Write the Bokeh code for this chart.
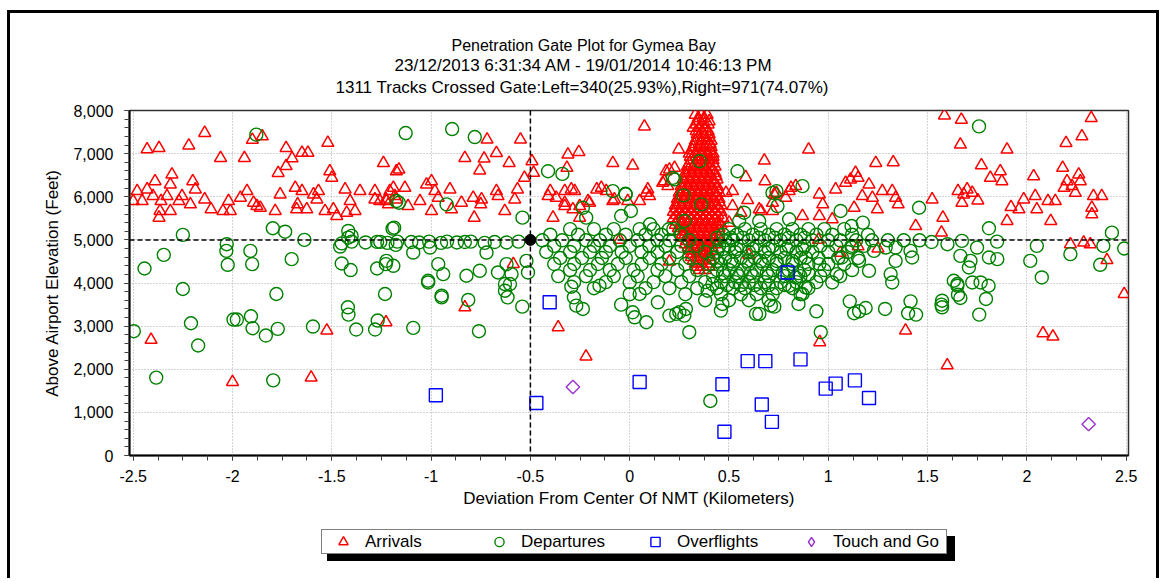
import math
from bokeh.plotting import figure
from bokeh.layouts import column
from bokeh.models import (Range1d, FixedTicker, Span, Title, Legend, LegendItem,
                          CustomJSTickFormatter, NumeralTickFormatter)
from bokeh.embed import file_html
from bokeh.resources import INLINE

# ---------------- text ----------------
title_lines = [
    "Penetration Gate Plot for Gymea Bay",
    "23/12/2013 6:31:34 AM - 19/01/2014 10:46:13 PM",
    "1311 Tracks Crossed Gate:Left=340(25.93%),Right=971(74.07%)",
]
x_axis_title = "Deviation From Center Of NMT (Kilometers)"
y_axis_title = "Above Airport Elevation (Feet)"
series_names = ["Arrivals", "Departures", "Overflights", "Touch and Go"]
x_tick_values = [-2.5, -2, -1.5, -1, -0.5, 0, 0.5, 1, 1.5, 2, 2.5]
y_tick_values = [0, 1000, 2000, 3000, 4000, 5000, 6000, 7000, 8000]
gate_x = -0.5
gate_y = 5000

# ---------------- data (km, feet) ----------------
arrivals_scatter = [
    (-2.43, 7100), (-2.37, 7130), (-2.14, 7480), (-2.22, 7190), (-2.06, 6900), (-1.94, 6900),
    (-1.90, 7320), (-1.85, 7400), (-1.73, 7130), (-1.77, 6550), (-1.73, 6710), (-1.70, 6890),
    (-1.65, 7020), (-1.62, 7020), (-1.52, 7250), (-1.51, 6590), (-1.50, 6440), (-1.24, 6780),
    (-1.175, 6590),
    (-2.50, 5900), (-2.455, 5900), (-2.48, 6130), (-2.43, 6170), (-2.39, 6360), (-2.40, 6015),
    (-2.36, 5900), (-2.365, 5670), (-2.37, 5515), (-2.33, 6015), (-2.305, 6516), (-2.313, 6285),
    (-2.313, 5670), (-2.27, 5900), (-2.254, 6015), (-2.20, 6360), (-2.187, 6170), (-2.212, 5823),
    (-2.14, 5938), (-2.108, 5708), (-2.048, 5670), (-2.02, 5900), (-2.011, 5670), (-1.96, 5976),
    (-1.927, 6130), (-1.894, 5861), (-1.877, 5784), (-1.86, 5745), (-1.785, 5670), (-1.76, 6054),
    (-1.684, 6207), (-1.65, 6130), (-1.672, 5823), (-1.677, 5708), (-1.626, 5708), (-1.592, 6054),
    (-1.567, 6130), (-1.575, 5938), (-1.534, 5670), (-1.492, 5708), (-1.475, 5553), (-1.425, 5630),
    (-1.433, 6170), (-1.408, 5900), (-1.383, 5670), (-1.358, 6130), (-1.283, 6130), (-1.283, 5938),
    (-1.258, 5900), (-1.225, 5900), (-1.208, 6130), (-1.183, 6015), (-1.215, 5823),
    (-2.41, 2683), (-2.0, 1704), (-1.604, 1806), (-1.525, 2898), (-1.227, 3090), (-0.83, 3436),
    (-0.36, 2974), (-0.22, 2297),
    (-0.718, 7324), (-0.55, 7324), (-0.83, 6900), (-0.733, 6885), (-0.671, 7015), (-0.607, 6784),
    (-0.755, 6608), (-0.492, 6823), (-0.484, 6553), (-0.53, 6438), (-1.162, 6631), (-1.227, 5938),
    (-1.19, 6207), (-1.132, 6207), (-1.175, 5938), (-1.116, 5784), (-1.056, 5900), (-1.023, 6285),
    (-0.998, 6360), (-0.981, 6130), (-0.998, 5670), (-0.964, 5976), (-0.905, 6170), (-0.897, 5708),
    (-0.847, 5861), (-0.788, 5976), (-0.783, 5515), (-0.75, 5823), (-0.746, 5938), (-0.671, 6130),
    (-0.663, 6015), (-0.629, 5670), (-0.579, 5938), (-0.565, 6170), (-0.586, 4440),
    (-0.311, 6978), (-0.256, 7038), (-0.316, 6669), (-0.4, 6130), (-0.411, 6015), (-0.37, 5976),
    (-0.327, 6130), (-0.294, 6170), (-0.277, 6130), (-0.327, 5784), (-0.286, 5708), (-0.252, 5515),
    (-0.21, 5900), (-0.386, 5515), (-0.166, 6170), (-0.143, 6207), (-0.118, 6130), (-0.085, 6784),
    (-0.085, 5900), (0.015, 6723), (0.074, 7630), (-0.01, 5900), (0.05, 5900), (0.083, 6091),
    (0.1, 6015), (-0.327, 5861), (-0.252, 5784), (-0.202, 5861), (-0.077, 5938), (0.091, 6170),
    (0.183, 6592), (0.226, 6669), (0.166, 6322), (0.192, 6246), (0.247, 7094), (0.2, 6631),
    (0.175, 6360),
    (0.678, 6839), (0.584, 6454), (0.681, 6360), (0.518, 6130), (0.594, 5923), (0.662, 5670),
    (0.485, 6091), (0.518, 5784), (0.56, 5630), (0.652, 5708), (0.5, 5399), (0.739, 6091),
    (0.719, 5861), (0.803, 6130), (0.836, 6246),
    (0.901, 7094), (1.239, 6784), (1.327, 6800), (1.585, 7885), (1.67, 7786), (1.665, 7209),
    (1.9, 7094), (1.771, 6731), (1.816, 6438), (1.866, 6592), (1.874, 6360), (2.324, 7823),
    (2.277, 7400), (2.197, 7246), (2.18, 6669), (2.261, 6516), (2.202, 6360), (2.227, 6246),
    (2.269, 6360), (2.187, 6207), (2.244, 6091), (2.335, 6015), (2.377, 6015), (2.327, 5745),
    (2.327, 5592), (2.034, 6477), (2.042, 6015), (2.106, 5900), (2.143, 5900), (2.05, 5708),
    (2.12, 5438), (1.984, 5938), (1.92, 5761), (1.96, 5708), (1.9, 5438), (2.219, 4900),
    (2.286, 4938), (2.319, 4900), (2.403, 4530), (1.523, 5938), (1.577, 5515), (1.57, 5168),
    (1.44, 5322), (1.653, 6130), (1.682, 6054), (1.699, 6170), (1.725, 6091), (1.673, 5861),
    (1.753, 5915), (1.037, 6170), (1.087, 6322), (1.137, 6553), (1.15, 6438), (1.112, 6400),
    (1.205, 6285), (1.272, 6130), (1.322, 6130), (1.339, 5976), (1.352, 5823), (1.222, 5976),
    (1.171, 6015), (1.247, 5708), (1.13, 5745), (0.955, 6054), (0.972, 5823), (1.02, 5476),
    (0.955, 5553), (0.87, 5553), (0.812, 6207), (0.786, 5976), (0.728, 6054), (0.719, 5670),
    (0.957, 2628), (1.389, 2898), (1.599, 2090), (2.081, 2836), (2.131, 2759), (2.49, 3745),
    (1.15, 4850), (1.25, 4800), (1.06, 4700), (0.95, 5000), (-0.05, 5000), (0.6, 4650), (0.2, 4500),
]

# dense arrival core near +0.35 km: (elevation, [deviations])
arrivals_core = [
    (7900, [0.33, 0.36, 0.39]),
    (7825, [0.345, 0.375]),
    (7750, [0.34, 0.37, 0.40]),
    (7675, [0.335, 0.365, 0.395]),
    (7600, [0.32, 0.35, 0.38]),
    (7525, [0.335, 0.365, 0.395]),
    (7450, [0.34, 0.37, 0.40]),
    (7375, [0.345, 0.375, 0.40]),
    (7300, [0.33, 0.36, 0.39, 0.41]),
    (7225, [0.325, 0.355, 0.385, 0.405]),
    (7150, [0.32, 0.35, 0.38, 0.41]),
    (7075, [0.315, 0.345, 0.375, 0.405]),
    (7000, [0.30, 0.33, 0.36, 0.39, 0.42]),
    (6925, [0.305, 0.335, 0.365, 0.395, 0.42]),
    (6850, [0.31, 0.34, 0.37, 0.40, 0.42]),
    (6775, [0.30, 0.33, 0.36, 0.39, 0.42]),
    (6700, [0.29, 0.32, 0.35, 0.38, 0.41, 0.43]),
    (6625, [0.295, 0.325, 0.355, 0.385, 0.415]),
    (6550, [0.28, 0.31, 0.34, 0.37, 0.40, 0.43]),
    (6475, [0.285, 0.315, 0.345, 0.375, 0.405, 0.435]),
    (6400, [0.27, 0.30, 0.33, 0.36, 0.39, 0.42, 0.44]),
    (6325, [0.275, 0.305, 0.335, 0.365, 0.395, 0.425]),
    (6250, [0.26, 0.29, 0.32, 0.35, 0.38, 0.41, 0.44]),
    (6175, [0.265, 0.295, 0.325, 0.355, 0.385, 0.415, 0.44]),
    (6100, [0.25, 0.28, 0.31, 0.34, 0.37, 0.40, 0.43, 0.45]),
    (6025, [0.255, 0.285, 0.315, 0.345, 0.375, 0.405, 0.435]),
    (5950, [0.24, 0.27, 0.30, 0.33, 0.36, 0.39, 0.42, 0.45]),
    (5875, [0.245, 0.275, 0.305, 0.335, 0.365, 0.395, 0.425, 0.45]),
    (5800, [0.23, 0.26, 0.29, 0.32, 0.35, 0.38, 0.41, 0.44, 0.46]),
    (5725, [0.235, 0.265, 0.295, 0.325, 0.355, 0.385, 0.415, 0.445]),
    (5650, [0.22, 0.25, 0.28, 0.31, 0.34, 0.37, 0.40, 0.43, 0.46]),
    (5575, [0.235, 0.265, 0.295, 0.325, 0.355, 0.385, 0.415, 0.445]),
    (5500, [0.22, 0.25, 0.28, 0.31, 0.34, 0.37, 0.40, 0.43, 0.47]),
    (5425, [0.235, 0.265, 0.295, 0.325, 0.355, 0.385, 0.415, 0.445]),
    (5350, [0.23, 0.26, 0.29, 0.32, 0.35, 0.38, 0.41, 0.44, 0.46]),
    (5275, [0.245, 0.275, 0.305, 0.335, 0.365, 0.395, 0.425, 0.45]),
    (5200, [0.25, 0.28, 0.31, 0.34, 0.37, 0.40, 0.43, 0.45]),
    (5125, [0.265, 0.295, 0.325, 0.355, 0.385, 0.415, 0.44]),
    (5050, [0.27, 0.30, 0.33, 0.36, 0.39, 0.42, 0.45]),
    (4975, [0.285, 0.315, 0.345, 0.375, 0.405, 0.435]),
    (4900, [0.28, 0.31, 0.34, 0.37, 0.40, 0.43]),
    (4825, [0.295, 0.325, 0.355, 0.385, 0.415]),
    (4750, [0.30, 0.33, 0.36, 0.39, 0.42]),
    (4675, [0.31, 0.34, 0.37, 0.40]),
    (4600, [0.31, 0.34, 0.37, 0.40]),
    (4525, [0.32, 0.35, 0.38, 0.41]),
    (4450, [0.33, 0.36, 0.39]),
    (4375, [0.34, 0.37, 0.40]),
    (4300, [0.35, 0.38]),
]

departures_scatter = [
    (-2.443, 4336), (-2.346, 4653), (-2.25, 5115), (-2.029, 4900), (-2.031, 4745), (-2.024, 4422),
    (-1.91, 4745), (-1.901, 4438), (-1.797, 5270), (-1.735, 5190), (-1.702, 4553), (-1.638, 5000),
    (-1.458, 4845), (-1.417, 5207), (-1.417, 5052), (-1.40, 5092), (-1.45, 4452), (-1.405, 4300),
    (-1.272, 4953), (-1.256, 4953), (-1.272, 4336), (-1.228, 4438), (-1.178, 4884), (-1.186, 5284),
    (-1.175, 5900), (-2.25, 3861), (-1.779, 3745), (-1.232, 3745), (-1.88, 7440),
    (-2.497, 2882), (-2.209, 3067), (-2.173, 2551), (-2.384, 1806), (-1.995, 3152), (-1.978, 3152),
    (-1.907, 3228), (-1.899, 2951), (-1.832, 2782), (-1.772, 2937), (-1.795, 1743), (-1.595, 2990),
    (-1.419, 3436), (-1.416, 3267), (-1.377, 2921), (-1.282, 2921), (-1.269, 3129), (-1.09, 2960),
    (-0.947, 3667), (-0.813, 3607), (-0.759, 2882), (-1.015, 4013), (-0.628, 3821), (-0.615, 3667),
    (-0.541, 3452), (-0.603, 3976),
    (-1.128, 7477), (-0.894, 7570), (-0.78, 7384), (-1.162, 5861), (-0.922, 5823), (-0.54, 5515),
    (-1.194, 5260), (-0.411, 6592), (-0.339, 6530), (-0.236, 5745), (-0.219, 5515), (-0.085, 6130),
    (-0.021, 6068), (-0.043, 5553), (0.006, 5670), (0.102, 5361), (0.197, 5246), (0.217, 6438),
    (0.543, 6592), (0.352, 6823), (0.271, 6031), (0.36, 5823), (0.275, 5438), (0.226, 6400),
    (-0.02, 6054), (0.719, 6091), (0.744, 5784), (0.803, 5477), (0.576, 5630), (0.652, 5438),
    (0.551, 5438), (0.87, 6246), (0.739, 6130), (1.457, 5745), (1.062, 5670), (1.117, 5322),
    (1.174, 5399), (1.759, 7631), (1.809, 5269), (2.428, 5168), (2.385, 4861), (2.219, 4669),
    (2.369, 4422), (2.05, 4861), (2.017, 4514), (2.075, 4129), (1.673, 4977), (1.665, 4630),
    (1.749, 4822), (1.809, 4591), (1.851, 4553), (1.716, 4514), (1.708, 4360), (1.632, 4052),
    (1.65, 3937), (1.767, 4013), (1.807, 3937), (1.414, 4745), (1.339, 4822), (1.289, 4822),
    (1.23, 4745), (1.155, 4514), (1.205, 4283), (1.314, 4206), (1.322, 4013), (1.118, 4822),
    (1.068, 4591), (1.043, 4206), (1.02, 4013), (0.955, 4438), (0.886, 4591), (0.903, 4206),
    (0.886, 3899), (0.836, 4129), (0.803, 3937), (0.87, 3745), (1.339, 4514), (1.422, 4591),
    (1.573, 3590), (2.49, 4800), (1.52, 4950), (1.6, 4900), (1.85, 4960),
    (-1.45, 4920), (-1.40, 4960), (-1.33, 4940), (-1.22, 4930), (-1.17, 4960), (-1.10, 4950),
    (-1.06, 4940), (-1.01, 4960), (-0.95, 4930), (-0.92, 4960), (-0.87, 4940), (-0.83, 4950),
    (-0.80, 4960), (-0.73, 4930), (-0.68, 4950), (-0.62, 4940), (-0.56, 4960),
    (-1.225, 4514), (-1.19, 4399), (-1.09, 4706), (-1.005, 4822), (-0.964, 4438), (-0.939, 4206),
    (-1.015, 4052), (-0.947, 3706), (-0.822, 4168), (-0.755, 4283), (-0.721, 4706), (-0.663, 4245),
    (-0.628, 3976), (-0.62, 4438), (-0.595, 4206), (-0.52, 4514), (-0.512, 4245),
    (-0.281, 3667), (-0.269, 3475), (-0.294, 3914), (-0.236, 3398), (-0.152, 3937), (-0.043, 3498),
    (0.015, 3321), (0.05, 3745), (0.025, 3205), (0.084, 3090), (0.142, 3552), (0.2, 3244),
    (0.234, 3283), (0.25, 3321), (0.275, 3244), (0.3, 2859), (0.283, 3398), (0.392, 3821),
    (0.467, 3514), (0.459, 3360), (0.636, 3283), (0.711, 3475), (0.417, 3976), (0.406, 1265),
    (0.962, 2859), (0.728, 3452), (0.85, 3514), (0.94, 3344), (1.108, 3575), (1.13, 3298),
    (1.155, 3344), (1.188, 3421), (1.286, 3398), (1.414, 3575), (1.402, 3298), (1.442, 3267),
    (1.57, 3498), (1.573, 3436), (1.653, 3729), (1.665, 3652), (1.76, 3267), (1.794, 3630),
    (1.65, 3976), (1.725, 4013), (0.653, 3283),
]

# dense departure mass: (elevation, [deviations])
departures_core = [
    (5250, [-0.30, -0.18, -0.08, 0.05, 0.12, 0.22, 0.50, 0.58, 0.66, 0.74, 0.82, 0.90, 0.98, 1.08]),
    (5120, [-0.40, -0.26, -0.12, -0.02, 0.08, 0.16, 0.26, 0.47, 0.54, 0.62, 0.70, 0.78, 0.86, 0.94,
            1.02, 1.12, 1.20]),
    (5050, [0.44, 0.51, 0.57, 0.65, 0.73, 0.80, 0.88]),
    (4990, [-0.44, -0.34, -0.22, -0.15, -0.05, 0.04, 0.14, 0.20, 0.30, 0.48, 0.52, 0.60, 0.68, 0.76,
            0.84, 0.92, 1.00, 1.06, 1.14, 1.22, 1.30, 1.38, 1.46]),
    (4860, [-0.38, -0.28, -0.18, -0.10, 0.00, 0.10, 0.18, 0.26, 0.34, 0.45, 0.50, 0.56, 0.64, 0.72,
            0.80, 0.88, 0.96, 1.04, 1.12, 1.18]),
    (4790, [0.47, 0.54, 0.62, 0.70, 0.79, 0.87]),
    (4720, [-0.42, -0.30, -0.20, -0.12, -0.04, 0.06, 0.14, 0.24, 0.38, 0.44, 0.53, 0.60, 0.68, 0.76,
            0.84, 0.92, 1.00, 1.10]),
    (4580, [-0.35, -0.24, -0.14, -0.02, 0.10, 0.20, 0.30, 0.42, 0.48, 0.56, 0.63, 0.70, 0.78, 0.86,
            0.95, 1.05, 1.15]),
    (4510, [0.44, 0.51, 0.59, 0.66, 0.74, 0.82]),
    (4440, [-0.38, -0.28, -0.16, -0.06, 0.06, 0.16, 0.28, 0.40, 0.46, 0.52, 0.60, 0.67, 0.74, 0.82,
            0.90, 1.00, 1.08]),
    (4300, [-0.30, -0.20, -0.10, 0.02, 0.14, 0.24, 0.34, 0.44, 0.50, 0.57, 0.64, 0.72, 0.80, 0.88,
            0.98, 1.12]),
    (4230, [0.47, 0.54, 0.61, 0.69, 0.77, 0.85]),
    (4160, [-0.36, -0.22, -0.08, 0.04, 0.18, 0.30, 0.42, 0.48, 0.55, 0.62, 0.70, 0.78, 0.86, 0.96,
            1.06]),
    (4020, [-0.28, -0.12, 0.00, 0.12, 0.26, 0.38, 0.46, 0.53, 0.60, 0.68, 0.76, 0.84, 0.94]),
    (3950, [0.49, 0.56, 0.63, 0.70, 0.78]),
    (3880, [-0.18, 0.08, 0.20, 0.34, 0.44, 0.52, 0.58, 0.66, 0.74, 0.82, 0.90]),
    (3740, [0.00, 0.28, 0.46, 0.56, 0.64, 0.72, 0.86]),
    (3600, [0.38, 0.50, 0.60, 0.70]),
]

overflights = [
    (-0.976, 1397), (-0.47, 1219), (-0.403, 3552), (0.05, 1704), (0.467, 1651), (0.477, 550),
    (0.594, 2189), (0.683, 2189), (0.665, 1182), (0.716, 780), (0.86, 2228), (0.987, 1551),
    (1.037, 1667), (1.134, 1743), (1.205, 1335), (0.795, 4245),
]

touch_and_go = [(-0.286, 1589), (2.311, 727)]


def expand(scatter, core):
    xs = [pt[0] for pt in scatter]
    ys = [pt[1] for pt in scatter]
    for elev, devs in core:
        for d in devs:
            xs.append(d)
            ys.append(elev)
    return xs, ys


arr_x, arr_y = expand(arrivals_scatter, arrivals_core)
dep_x, dep_y = expand(departures_scatter, departures_core)
ovf_x = [pt[0] for pt in overflights]
ovf_y = [pt[1] for pt in overflights]
tng_x = [pt[0] for pt in touch_and_go]
tng_y = [pt[1] for pt in touch_and_go]
series_xy = {"Arrivals": (arr_x, arr_y), "Departures": (dep_x, dep_y),
             "Overflights": (ovf_x, ovf_y), "Touch and Go": (tng_x, tng_y)}

# ---------------- styles ----------------
FONT = "Liberation Sans"
STYLES = {
    "Arrivals": dict(marker="triangle", size=12, line_color="#ff0000", line_width=1.5),
    "Departures": dict(marker="circle", size=13, line_color="#008000", line_width=1.4),
    "Overflights": dict(marker="square", size=13, line_color="#0000ff", line_width=1.4),
    "Touch and Go": dict(marker="square", angle=math.pi / 4, size=9.5, line_color="#9933cc",
                         line_width=1.4),
}
KEY_STYLES = dict(STYLES)
KEY_STYLES["Touch and Go"] = dict(marker="diamond", size=9.5, line_color="#9933cc",
                                  line_width=1.4)

# ---------------- main figure ----------------
p = figure(width=1152, height=502, output_backend="svg", toolbar_location=None, title=None,
           x_range=Range1d(-2.5186, 2.5116), y_range=Range1d(0, 8000),
           min_border_left=119, min_border_right=34, min_border_top=97, min_border_bottom=60,
           background_fill_color="white", border_fill_color="white")
p.styles = {"border-top": "3px solid black", "border-left": "3px solid black",
            "border-right": "3px solid black"}
p.outline_line_color = "#303030"
p.outline_line_width = 1.5

x_minor = [-2.5 + 0.125 * i for i in range(41)]
y_minor = [200 * i for i in range(41)]
p.xaxis.ticker = FixedTicker(ticks=x_tick_values, minor_ticks=x_minor)
p.yaxis.ticker = FixedTicker(ticks=y_tick_values, minor_ticks=y_minor)
p.xaxis.formatter = CustomJSTickFormatter(code="return String(Math.round(tick*10)/10);")
p.yaxis.formatter = NumeralTickFormatter(format="0,0")

for ax in (p.xaxis[0], p.yaxis[0]):
    ax.axis_line_color = "black"
    ax.axis_line_width = 2
    ax.major_tick_in = 0
    ax.major_tick_out = 5
    ax.minor_tick_in = 0
    ax.minor_tick_out = 5
    ax.major_tick_line_color = "#202020"
    ax.minor_tick_line_color = "#404040"
    ax.major_label_text_font = FONT
    ax.major_label_text_font_size = "16px"
    ax.major_label_text_color = "black"
    ax.axis_label_text_font = FONT
    ax.axis_label_text_font_size = "17px"
    ax.axis_label_text_font_style = "normal"
    ax.axis_label_text_color = "black"
p.xaxis.axis_label = x_axis_title
p.yaxis.axis_label = y_axis_title
p.xaxis.major_label_standoff = 9
p.xaxis.axis_label_standoff = 4
p.yaxis.major_label_standoff = 11
p.yaxis.axis_label_standoff = 8

p.grid.grid_line_color = "#a8a8a8"
p.grid.grid_line_dash = "1 2"
p.grid.grid_line_width = 1

p.add_layout(Span(location=gate_y, dimension="width", line_color="black",
                  line_dash="5 3", line_width=1.5))
p.add_layout(Span(location=gate_x, dimension="height", line_color="black",
                  line_dash="5 3", line_width=1.5))

for name in series_names:
    xs, ys = series_xy[name]
    p.scatter(xs, ys, fill_color=None, **STYLES[name])
p.scatter([gate_x], [gate_y], marker="circle", size=11, color="black")

# title lines, stacked upward from the frame (a small blank spacer first)
p.add_layout(Title(text=" ", text_font_size="9px", standoff=0), "above")
title_sizes = ["16px", "17px", "17px"]
title_offsets = [322, 265, 206]
for i in (2, 1, 0):
    p.add_layout(Title(text=title_lines[i], align="left", offset=title_offsets[i],
                       standoff=3 if i == 2 else 0, text_font=FONT,
                       text_font_size=title_sizes[i], text_font_style="normal",
                       text_color="black"), "above")

# ---------------- legend strip (frame aligned with the plot above) ----------------
lf = figure(width=1152, height=66, output_backend="svg", toolbar_location=None, title=None,
            x_axis_location=None, y_axis_location=None,
            x_range=Range1d(0, 1), y_range=Range1d(0, 1),
            min_border_left=0, min_border_right=0, min_border_top=0, min_border_bottom=0,
            background_fill_color="white", border_fill_color="white")
lf.styles = {"border-left": "3px solid black", "border-right": "3px solid black"}
lf.outline_line_color = None
lf.grid.visible = False
# key renderers: first point of each series, which lies outside this strip's 0..1 ranges
key_renderers = [lf.scatter(series_xy[n][0][:1], series_xy[n][1][:1], fill_color=None,
                            **KEY_STYLES[n]) for n in series_names]
shadow_key = lf.scatter(ovf_x[:1], ovf_y[:1], marker="square", line_alpha=0, fill_alpha=0)

common = dict(orientation="horizontal", glyph_width=42, glyph_height=23, label_height=23,
              label_standoff=1, spacing=0, padding=0, margin=0,
              border_line_color="black", border_line_width=1, background_fill_alpha=1,
              label_text_font=FONT, label_text_font_size="17px",
              label_text_color="black", label_text_baseline="middle")
shadow = Legend(items=[LegendItem(label=" ", renderers=[shadow_key])], location=(198, 17),
                label_width=583, background_fill_color="black", **common)
legend = Legend(items=[LegendItem(label=n, renderers=[r])
                       for n, r in zip(series_names, key_renderers)],
                location=(192, 24), label_width=113, background_fill_color="white", **common)
lf.add_layout(shadow, "center")
lf.add_layout(legend, "center")

page = column(p, lf, spacing=0, styles={"margin-left": "7px", "margin-top": "10px"})
open("out.html", "w").write(file_html(page, INLINE))
